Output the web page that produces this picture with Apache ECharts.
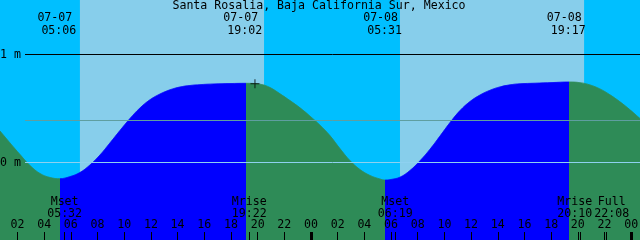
<!DOCTYPE html>
<html><head><meta charset="utf-8">
<script src="https://cdn.jsdelivr.net/npm/echarts@6/dist/echarts.min.js"></script>
<style>html,body{margin:0;padding:0;background:#00BFFF}#c{width:640px;height:240px}</style>
</head><body><div id="c"></div>
<script>
const stationName = 'Santa Rosalia, Baja California Sur, Mexico';
// hours since 07-07 00:00 and tide level (m)
const tideHours = [0.69,1.44,2.19,2.94,3.69,4.44,5.18,5.93,6.68,7.43,8.18,8.93,9.68,10.43,11.18,11.93,12.68,13.43,14.18,14.93,15.68,16.73,17.93,19.13,20.18,20.93,21.68,22.43,23.18,23.93,24.68,25.42,26.17,26.92,27.67,28.42,29.17,29.55,29.92,30.67,31.42,32.17,32.92,33.67,34.42,35.17,35.92,36.67,37.42,38.17,38.92,39.67,40.79,42.07,43.34,44.17,44.92,45.66,46.41,47.16,47.91,48.66];
const tideLevels = [0.292,0.181,0.074,-0.028,-0.102,-0.139,-0.150,-0.131,-0.093,-0.023,0.069,0.181,0.296,0.407,0.505,0.581,0.634,0.673,0.699,0.713,0.721,0.727,0.731,0.733,0.725,0.694,0.636,0.573,0.506,0.429,0.345,0.249,0.129,0.018,-0.065,-0.120,-0.153,-0.163,-0.159,-0.136,-0.074,0.016,0.123,0.245,0.370,0.481,0.565,0.625,0.669,0.700,0.719,0.729,0.734,0.740,0.745,0.739,0.718,0.681,0.627,0.562,0.488,0.407];
const levelLines = [1, 0];
const levelLabels = ['1 m', '0 m'];
const meanLevel = 0.389;
const hourTicks = [2,4,6,8,10,12,14,16,18,20,22,24,26,28,30,32,34,36,38,40,42,44,46,48];
const midnightTicks = [24, 48];
const sunDays = [0, 0, 1, 1];
const sunDates = ['07-07', '07-07', '07-08', '07-08'];
const sunTimes = ['05:06', '19:02', '05:31', '19:17'];
const dayBands = [[6.68, 20.48], [30.67, 44.47]];
const moonDays = [0, 0, 1, 1, 1];
const moonNames = ['Mset', 'Mrise', 'Mset', 'Mrise', 'Full'];
const moonTimes = ['05:32', '19:22', '06:19', '20:10', '22:08'];
const nowMark = [19.8, 0.728];
const xRange = [0.69, 48.66];
const yRange = [-0.7176, 1.5046];

const NIGHT = '#00BFFF', DAY = '#87CEEB', FLOOD = '#0000FF', EBB = '#2E8B57';
const FONT = '"DejaVu Sans Mono", monospace', FS = 11.6;
const toH = (d, s) => d * 24 + Number(s.slice(0, 2)) + Number(s.slice(3)) / 60;
const sunT = sunTimes.map((s, i) => toH(sunDays[i], s));
const moonT = moonTimes.map((s, i) => toH(moonDays[i], s));

// rising (flood) / falling (ebb) segments split at local extrema
const bounds = [];
for (let i = 1; i < tideLevels.length - 1; i++) {
  const a = tideLevels[i - 1], b = tideLevels[i], c = tideLevels[i + 1];
  if ((b <= a && b < c) || (b >= a && b > c)) bounds.push(tideHours[i]);
}
let rising = tideLevels[1] > tideLevels[0];
const pieces = [];
let lo = null;
bounds.forEach(b => {
  const p = { lt: b, color: rising ? FLOOD : EBB };
  if (lo !== null) p.gte = lo;
  pieces.push(p); lo = b; rising = !rising;
});
pieces.push({ gte: lo, color: rising ? FLOOD : EBB });

const chart = echarts.init(document.getElementById('c'), null, { renderer: 'canvas' });
const lineColors = ['#000000', '#8ED1F0'];
const option = {
  backgroundColor: NIGHT,
  animation: false,
  grid: [
    { left: 0, right: 0, top: 0, bottom: 0, outerBoundsMode: 'none' },
    { left: 25, right: 0, top: 0, bottom: 0, outerBoundsMode: 'none' }
  ],
  xAxis: [
    { type: 'value', gridIndex: 0, min: xRange[0], max: xRange[1], position: 'bottom', z: 20,
      axisLine: { show: false, onZero: false }, splitLine: { show: false },
      axisTick: { show: true, inside: true, length: 8, customValues: hourTicks.concat(moonT), lineStyle: { color: '#000', width: 1 } },
      axisLabel: { show: true, inside: true, margin: 9, customValues: hourTicks,
        formatter: v => String(Math.round(v) % 24).padStart(2, '0'),
        fontFamily: FONT, fontSize: FS, color: '#000', lineHeight: 12 } },
    { type: 'value', gridIndex: 0, min: xRange[0], max: xRange[1], position: 'bottom', z: 20,
      axisLine: { show: false, onZero: false }, splitLine: { show: false }, axisLabel: { show: false },
      axisTick: { show: true, inside: true, length: 8, customValues: midnightTicks, lineStyle: { color: '#000', width: 3 } } },
    { type: 'value', gridIndex: 1, min: 0, max: 1, show: false, axisLine: { onZero: false } }
  ],
  yAxis: [
    { type: 'value', gridIndex: 0, min: yRange[0], max: yRange[1], show: false, splitLine: { show: false }, axisLine: { onZero: false } },
    { type: 'value', gridIndex: 1, min: yRange[0], max: yRange[1], show: false, splitLine: { show: false }, axisLine: { onZero: false } }
  ],
  visualMap: { type: 'piecewise', show: false, dimension: 0, seriesIndex: 1, pieces: pieces },
  series: [
    { type: 'line', xAxisIndex: 0, yAxisIndex: 0, data: [], silent: true, z: 1,
      markArea: { silent: true, itemStyle: { color: DAY, opacity: 1 },
        data: dayBands.map(b => [{ xAxis: b[0] }, { xAxis: b[1] }]) } },
    { type: 'line', xAxisIndex: 0, yAxisIndex: 0, z: 2, silent: true, symbol: 'none', smooth: 0.4,
      data: tideHours.map((h, i) => [h, tideLevels[i]]),
      lineStyle: { width: 0.5 }, areaStyle: { opacity: 1, origin: 'start' } },
    { type: 'line', xAxisIndex: 2, yAxisIndex: 1, z: 3, data: [], silent: true,
      markLine: { silent: true, symbol: 'none', animation: false,
        data: levelLines.map((v, i) => ({ yAxis: v, lineStyle: { color: lineColors[i], width: 1, type: 'solid' },
            label: { show: true, position: 'start', distance: 4, formatter: levelLabels[i], fontFamily: FONT, fontSize: FS, color: '#000' } }))
          .concat([{ yAxis: meanLevel, lineStyle: { color: '#5F9EA0', width: 1, type: 'solid' }, label: { show: false } }]) } },
    { type: 'scatter', xAxisIndex: 0, yAxisIndex: 0, z: 4, silent: true,
      symbol: 'path://M0,4L9,4L9,5L0,5Z M4,0L5,0L5,9L4,9Z', symbolSize: 9,
      itemStyle: { color: '#000' }, data: [nowMark] }
  ]
};
chart.setOption(option);

const px = v => chart.convertToPixel({ xAxisIndex: 0 }, v);
const txt = (x, y, s) => ({ type: 'text', x: x, y: y, z: 100, silent: true,
  style: { text: s, fill: '#000', font: FS + 'px ' + FONT, align: 'center', verticalAlign: 'middle' } });
const g = [txt(319, 6, stationName)];
sunT.forEach((t, i) => { const x = px(t); g.push(txt(x - 4, 17.5, sunDates[i])); g.push(txt(x, 30.5, sunTimes[i])); });
// moon labels with simple overlap avoidance
const mc = moonT.map(px);
const mw = moonNames.map((n, i) => Math.max(n.length, moonTimes[i].length) * 7);
for (let i = 1; i < mc.length; i++) {
  const ov = (mc[i - 1] + mw[i - 1] / 2 + 2) - (mc[i] - mw[i] / 2);
  if (ov > 0) { mc[i - 1] -= ov / 2; mc[i] += ov / 2; }
}
mc.forEach((x, i) => { g.push(txt(x, 201.5, moonNames[i])); g.push(txt(x, 213.5, moonTimes[i])); });
chart.setOption({ graphic: g });
</script></body></html>
